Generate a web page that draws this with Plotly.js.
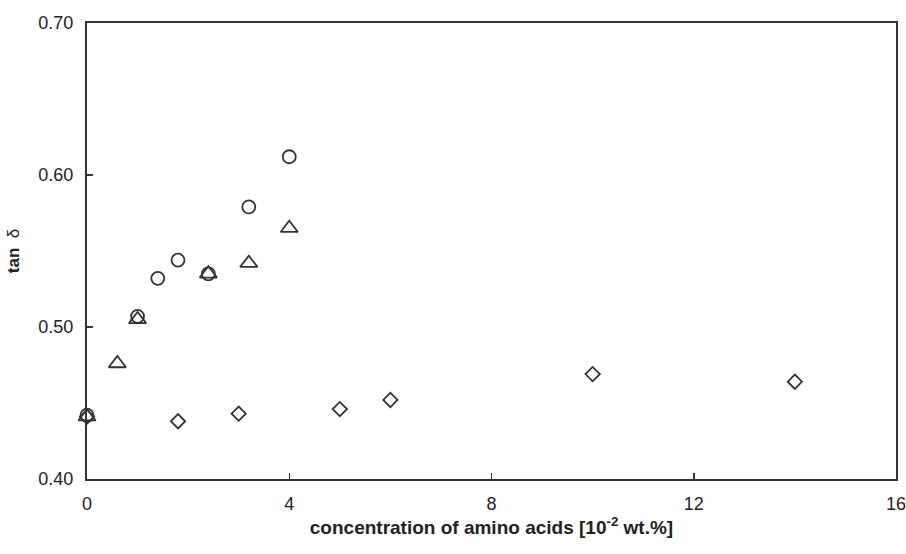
<!DOCTYPE html>
<html>
<head>
<meta charset="utf-8">
<script src="https://cdn.plot.ly/plotly-3.0.1.min.js"></script>
<style>html,body{margin:0;padding:0;background:#fff;}#chart{width:906px;height:554px;}</style>
</head>
<body>
<div id="chart"></div>
<script>
const circleX = [0, 1.0, 1.4, 1.8, 2.4, 3.2, 4.0];
const circleY = [0.442, 0.507, 0.532, 0.544, 0.535, 0.579, 0.612];
const triangleX = [0, 0.6, 1.0, 2.4, 3.2, 4.0];
const triangleY = [0.441, 0.476, 0.505, 0.535, 0.542, 0.565];
const diamondX = [0, 1.8, 3.0, 5.0, 6.0, 10.0, 14.0];
const diamondY = [0.441, 0.438, 0.443, 0.446, 0.452, 0.469, 0.464];
const xTicks = [0, 4, 8, 12, 16];
const yTicks = [0.40, 0.50, 0.60, 0.70];
const yTickText = ['0.40', '0.50', '0.60', '0.70'];

const lineCol = '#333333';
function tr(x, y, sym, size) {
  return {
    x: x, y: y, type: 'scatter', mode: 'markers', cliponaxis: false,
    marker: {symbol: sym, size: size, color: lineCol, line: {color: lineCol, width: 1.8}}
  };
}
const data = [
  tr(diamondX, diamondY, 'diamond-open', 11),
  tr(triangleX, triangleY, 'triangle-up-open', 15),
  tr(circleX, circleY, 'circle-open', 13)
];
const fam = 'Liberation Sans, Arial, sans-serif';
const layout = {
  width: 906, height: 554,
  margin: {l: 87, r: 10, t: 23, b: 75},
  paper_bgcolor: '#fff', plot_bgcolor: '#fff',
  showlegend: false,
  font: {family: fam, color: '#222', size: 17},
  xaxis: {
    range: [0, 16], tickvals: xTicks, ticktext: xTicks.map(String),
    ticks: 'inside', ticklen: 6, tickwidth: 1.5, tickcolor: lineCol,
    showline: true, linecolor: lineCol, linewidth: 2, mirror: true,
    showgrid: false, zeroline: false, ticklabelstandoff: 7, ticklabeloverflow: 'allow',
    tickfont: {size: 18, color: '#222', family: fam},
    title: {text: '<b>concentration of amino acids [10<sup>-2</sup> wt.%]</b>', font: {size: 19, color: '#222', family: fam}, standoff: 0}
  },
  yaxis: {
    range: [0.40, 0.70], tickvals: yTicks, ticktext: yTickText,
    ticks: 'inside', ticklen: 6, tickwidth: 1.5, tickcolor: lineCol,
    showline: true, linecolor: lineCol, linewidth: 2, mirror: true,
    showgrid: false, zeroline: false, ticklabelstandoff: 8, ticklabeloverflow: 'allow',
    tickfont: {size: 18, color: '#222', family: fam},
    title: {text: '<b>tan</b>  δ', font: {size: 17, color: '#222', family: fam}, standoff: 14}
  }
};
Plotly.newPlot('chart', data, layout, {displayModeBar: false, staticPlot: true});
</script>
</body>
</html>
